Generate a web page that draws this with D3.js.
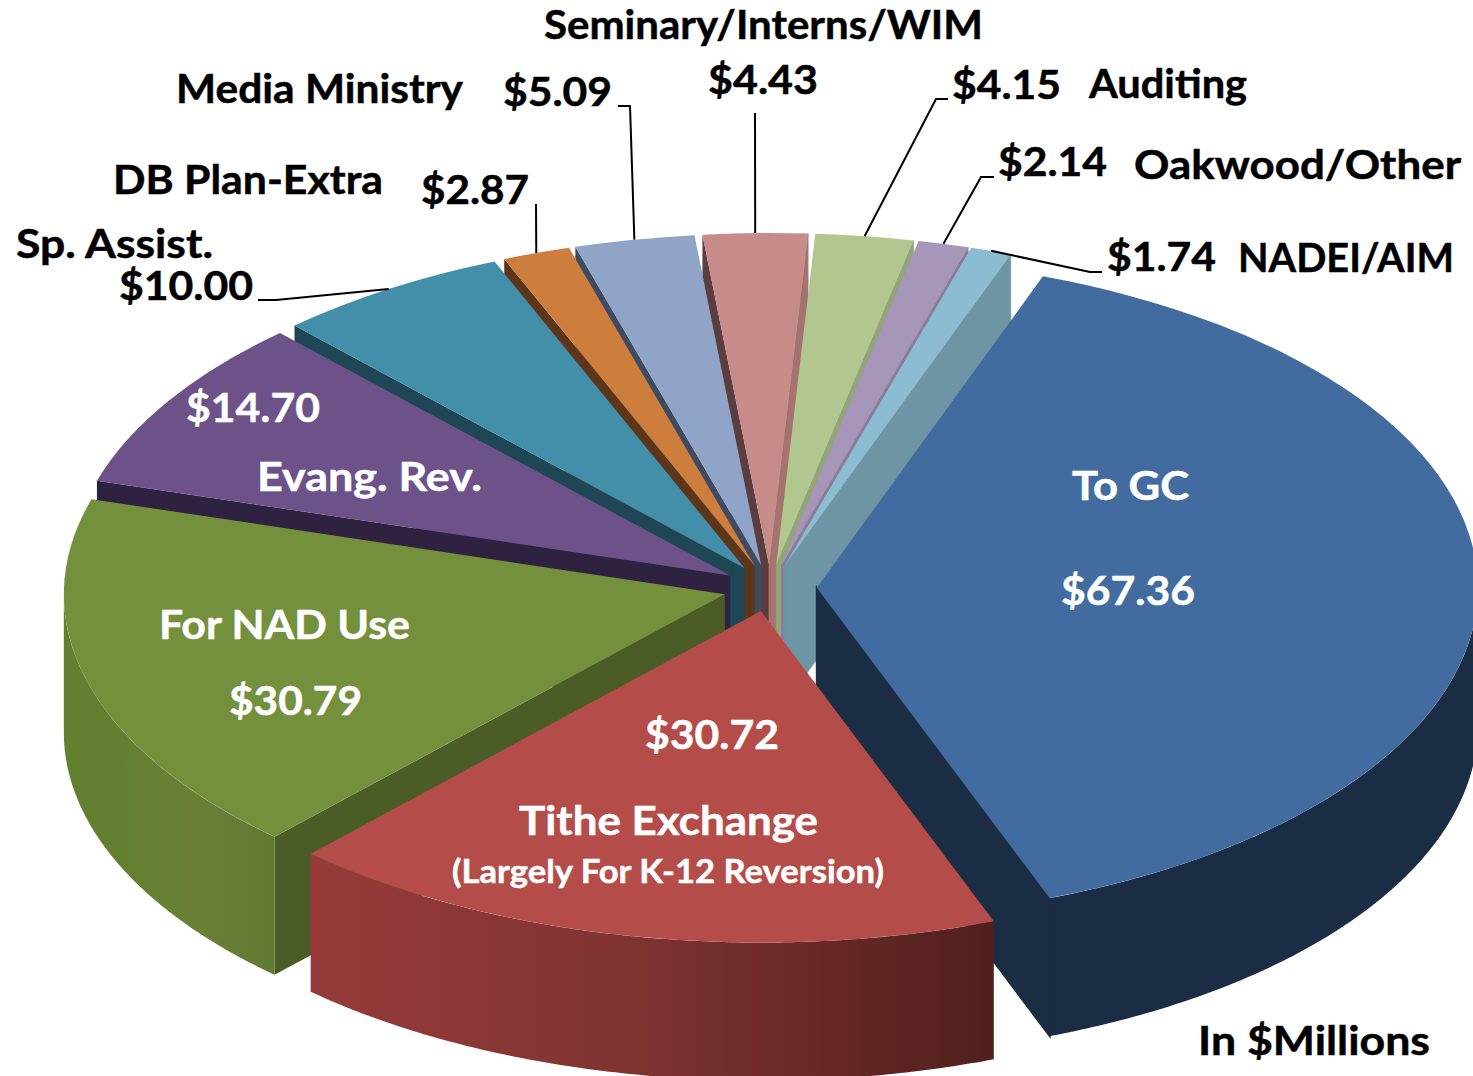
<!DOCTYPE html>
<html>
<head>
<meta charset="utf-8">
<script src="https://d3js.org/d3.v7.min.js"></script>
<style>
html, body { margin: 0; padding: 0; background: #fff; }
svg { display: block; }
text { font-family: Lato, "Open Sans", sans-serif; font-weight: 700; }
</style>
</head>
<body>
<svg id="chart" width="1473" height="1076"></svg>
<script>
// values, clockwise from To GC, in $ millions
const categories = ["To GC", "Tithe Exchange", "For NAD Use", "Evang. Rev.", "Sp. Assist.", "DB Plan-Extra",
  "Media Ministry", "Seminary/Interns/WIM", "Auditing", "Oakwood/Other", "NADEI/AIM"];
const values = [67.36, 30.72, 30.79, 14.70, 10.00, 2.87, 5.09, 4.43, 4.15, 2.14, 1.74];

const topColors = ["#426c9f", "#b44c49", "#75903d", "#6c5288", "#438ea8", "#cd7e3c", "#8fa4c6", "#c78b89", "#b2c68f", "#a596ba", "#8bbccf"];
const startWallColors = ["#1b2d45", "#6e2d2b", "#4b5c27", "#2f2240", "#1e4655", "#5d3518", "#3e4b60", "#5a3e3e", "#93a578", "#8a7d9c", "#6d95a6"];
const endWallColors = ["#1b2d45", "#6e2d2b", "#4b5c27", "#2f2240", "#1e4655", "#5d3518", "#3e4b60", "#a57270", "#93a578", "#8a7d9c", "#6d95a6"];

// pie geometry
const cx = 770, cy = 588, radius = 661, squash = 0.5015, depth = 138, explode = 46.8;
const firstAngle = 20 * Math.PI / 180;

const svg = d3.select("#chart");
const defs = svg.append("defs");

const pie = d3.pie().sort(null).value(d => d.value).startAngle(firstAngle).endAngle(firstAngle + 2 * Math.PI);
const rows = categories.map((c, i) => ({ name: c, value: values[i], i: i }));
const slices = pie(rows);

const x = d3.scaleLinear().domain([-1, 1]).range([cx - radius, cx + radius]);
const y = d3.scaleLinear().domain([-1, 1]).range([cy + radius * squash, cy - radius * squash]);

function mid(d) { return (d.startAngle + d.endAngle) / 2; }
function offset(d) {
  const e = explode / radius, a = mid(d);
  return [e * Math.sin(a), e * Math.cos(a)];
}
// angle + radius fraction on a slice -> screen position, dz pushes it down the wall
function project(d, a, f, dz) {
  const o = offset(d);
  return [x(o[0] + f * Math.sin(a)), y(o[1] + f * Math.cos(a)) + (dz || 0)];
}

const line = d3.line();
const arc = d3.arc().innerRadius(0).outerRadius(radius);

function radialWall(d, a) {
  return line([project(d, a, 0), project(d, a, 1), project(d, a, 1, depth), project(d, a, 0, depth)]) + "Z";
}
function outerWall(d) {
  const a0 = Math.max(d.startAngle, Math.PI / 2), a1 = Math.min(d.endAngle, 1.5 * Math.PI);
  if (a1 <= a0) return null;
  const steps = d3.range(0, 121).map(t => a0 + (a1 - a0) * t / 120);
  const upper = steps.map(a => project(d, a, 1));
  const lower = steps.slice().reverse().map(a => project(d, a, 1, depth));
  return line(upper.concat(lower)) + "Z";
}

// banded shading on the front rims
function rimGradient(id, x1, x2, stops) {
  const g = defs.append("linearGradient").attr("id", id).attr("gradientUnits", "userSpaceOnUse")
    .attr("x1", x1).attr("x2", x2).attr("y1", 0).attr("y2", 0);
  stops.forEach(s => g.append("stop").attr("offset", s[0]).attr("stop-color", s[1]));
}
rimGradient("rimTithe", x(-0.68), x(0.36), [[0, "#963b3a"], [0.45, "#7f3331"], [0.75, "#652826"], [1, "#4e1f1c"]]);
rimGradient("rimNad", x(-1.0), x(-0.7), [[0, "#62802f"], [0.45, "#6a8036"], [1, "#5f7632"]]);
const rimFill = ["#1b2d45", "url(#rimTithe)", "url(#rimNad)"];

// painter's order, back of the pie first
const ordered = slices.slice().sort((a, b) => d3.descending(Math.cos(mid(a)), Math.cos(mid(b))));

const groups = svg.append("g").selectAll("g").data(ordered).join("g");

groups.each(function (d) {
  const g = d3.select(this), i = d.data.i;
  const rim = outerWall(d);
  // only the cut faces turned toward the viewer
  if (Math.sin(d.startAngle) < 0) g.append("path").attr("d", radialWall(d, d.startAngle)).attr("fill", startWallColors[i]);
  if (Math.sin(d.endAngle) > 0) {
    // stroke closes the seam against the rim
    g.append("path").attr("d", radialWall(d, d.endAngle)).attr("fill", endWallColors[i])
      .attr("stroke", endWallColors[i]).attr("stroke-width", rim ? 2 : 0.8);
  }
  if (rim) g.append("path").attr("d", rim).attr("fill", rimFill[i] || startWallColors[i]);
  const o = project(d, 0, 0);
  g.append("path").attr("d", arc(d)).attr("fill", topColors[i])
    .attr("transform", "translate(" + o[0] + "," + o[1] + ") scale(1," + squash + ")");
});

// leader lines: label corner points, then the rim at the middle of the slice
const leaders = [
  { slice: 4, from: [[258, 300], [276, 300]] },
  { slice: 5, from: [[536, 204]] },
  { slice: 6, from: [[618, 106], [630, 106]] },
  { slice: 7, from: [[755, 113]] },
  { slice: 8, from: [[948, 99], [936, 99]] },
  { slice: 9, from: [[994, 177], [981, 177]] },
  { slice: 10, from: [[1102, 272], [1090, 272]] }
];
svg.append("g").selectAll("path").data(leaders).join("path")
  .attr("fill", "none").attr("stroke", "#000").attr("stroke-width", 2)
  .attr("d", l => line(l.from.concat([project(slices[l.slice], mid(slices[l.slice]), 1)])));

// label placement: index into categories/values, left edge, baseline, width on the page
const money = d3.format("$.2f");
const nameLabels = [
  { i: 0, x: 1072, y: 500, w: 117, fill: "#fff" },
  { i: 1, x: 519, y: 835, w: 299, fill: "#fff" },
  { i: 2, x: 159, y: 639, w: 251, fill: "#fff" },
  { i: 3, x: 257, y: 491, w: 225, fill: "#fff" },
  { i: 4, x: 16, y: 258, w: 197, fill: "#000" },
  { i: 5, x: 113, y: 194, w: 270, fill: "#000" },
  { i: 6, x: 176, y: 103, w: 287, fill: "#000" },
  { i: 7, x: 544, y: 39, w: 439, fill: "#000" },
  { i: 8, x: 1089, y: 98, w: 158, fill: "#000" },
  { i: 9, x: 1134, y: 179, w: 327, fill: "#000" },
  { i: 10, x: 1238, y: 272, w: 216, fill: "#000" }
];
const valueLabels = [
  { i: 0, x: 1061, y: 605, w: 134, fill: "#fff" },
  { i: 1, x: 645, y: 749, w: 134, fill: "#fff" },
  { i: 2, x: 229, y: 715, w: 133, fill: "#fff" },
  { i: 3, x: 186, y: 422, w: 134, fill: "#fff" },
  { i: 4, x: 119, y: 300, w: 134, fill: "#000" },
  { i: 5, x: 421, y: 204, w: 108, fill: "#000" },
  { i: 6, x: 503, y: 106, w: 109, fill: "#000" },
  { i: 7, x: 708, y: 94, w: 110, fill: "#000" },
  { i: 8, x: 952, y: 99, w: 109, fill: "#000" },
  { i: 9, x: 998, y: 176, w: 109, fill: "#000" },
  { i: 10, x: 1107, y: 271, w: 109, fill: "#000" }
];
const extraLabels = [
  { text: "(Largely For K-12 Reversion)", x: 452, y: 883, w: 432, size: 33, fill: "#fff" },
  { text: "In $Millions", x: 1198, y: 1055, w: 232, size: 40, fill: "#000" }
];

const allLabels = nameLabels.map(l => Object.assign({ text: categories[l.i], size: 40 }, l))
  .concat(valueLabels.map(l => Object.assign({ text: money(values[l.i]), size: 40 }, l)))
  .concat(extraLabels);

svg.append("g").selectAll("text").data(allLabels).join("text")
  .attr("x", d => d.x).attr("y", d => d.y)
  .attr("font-size", d => d.size).attr("fill", d => d.fill)
  .attr("stroke", d => d.fill).attr("stroke-width", 0.5)
  .attr("textLength", d => d.w).attr("lengthAdjust", "spacingAndGlyphs")
  .text(d => d.text);
</script>
</body>
</html>
